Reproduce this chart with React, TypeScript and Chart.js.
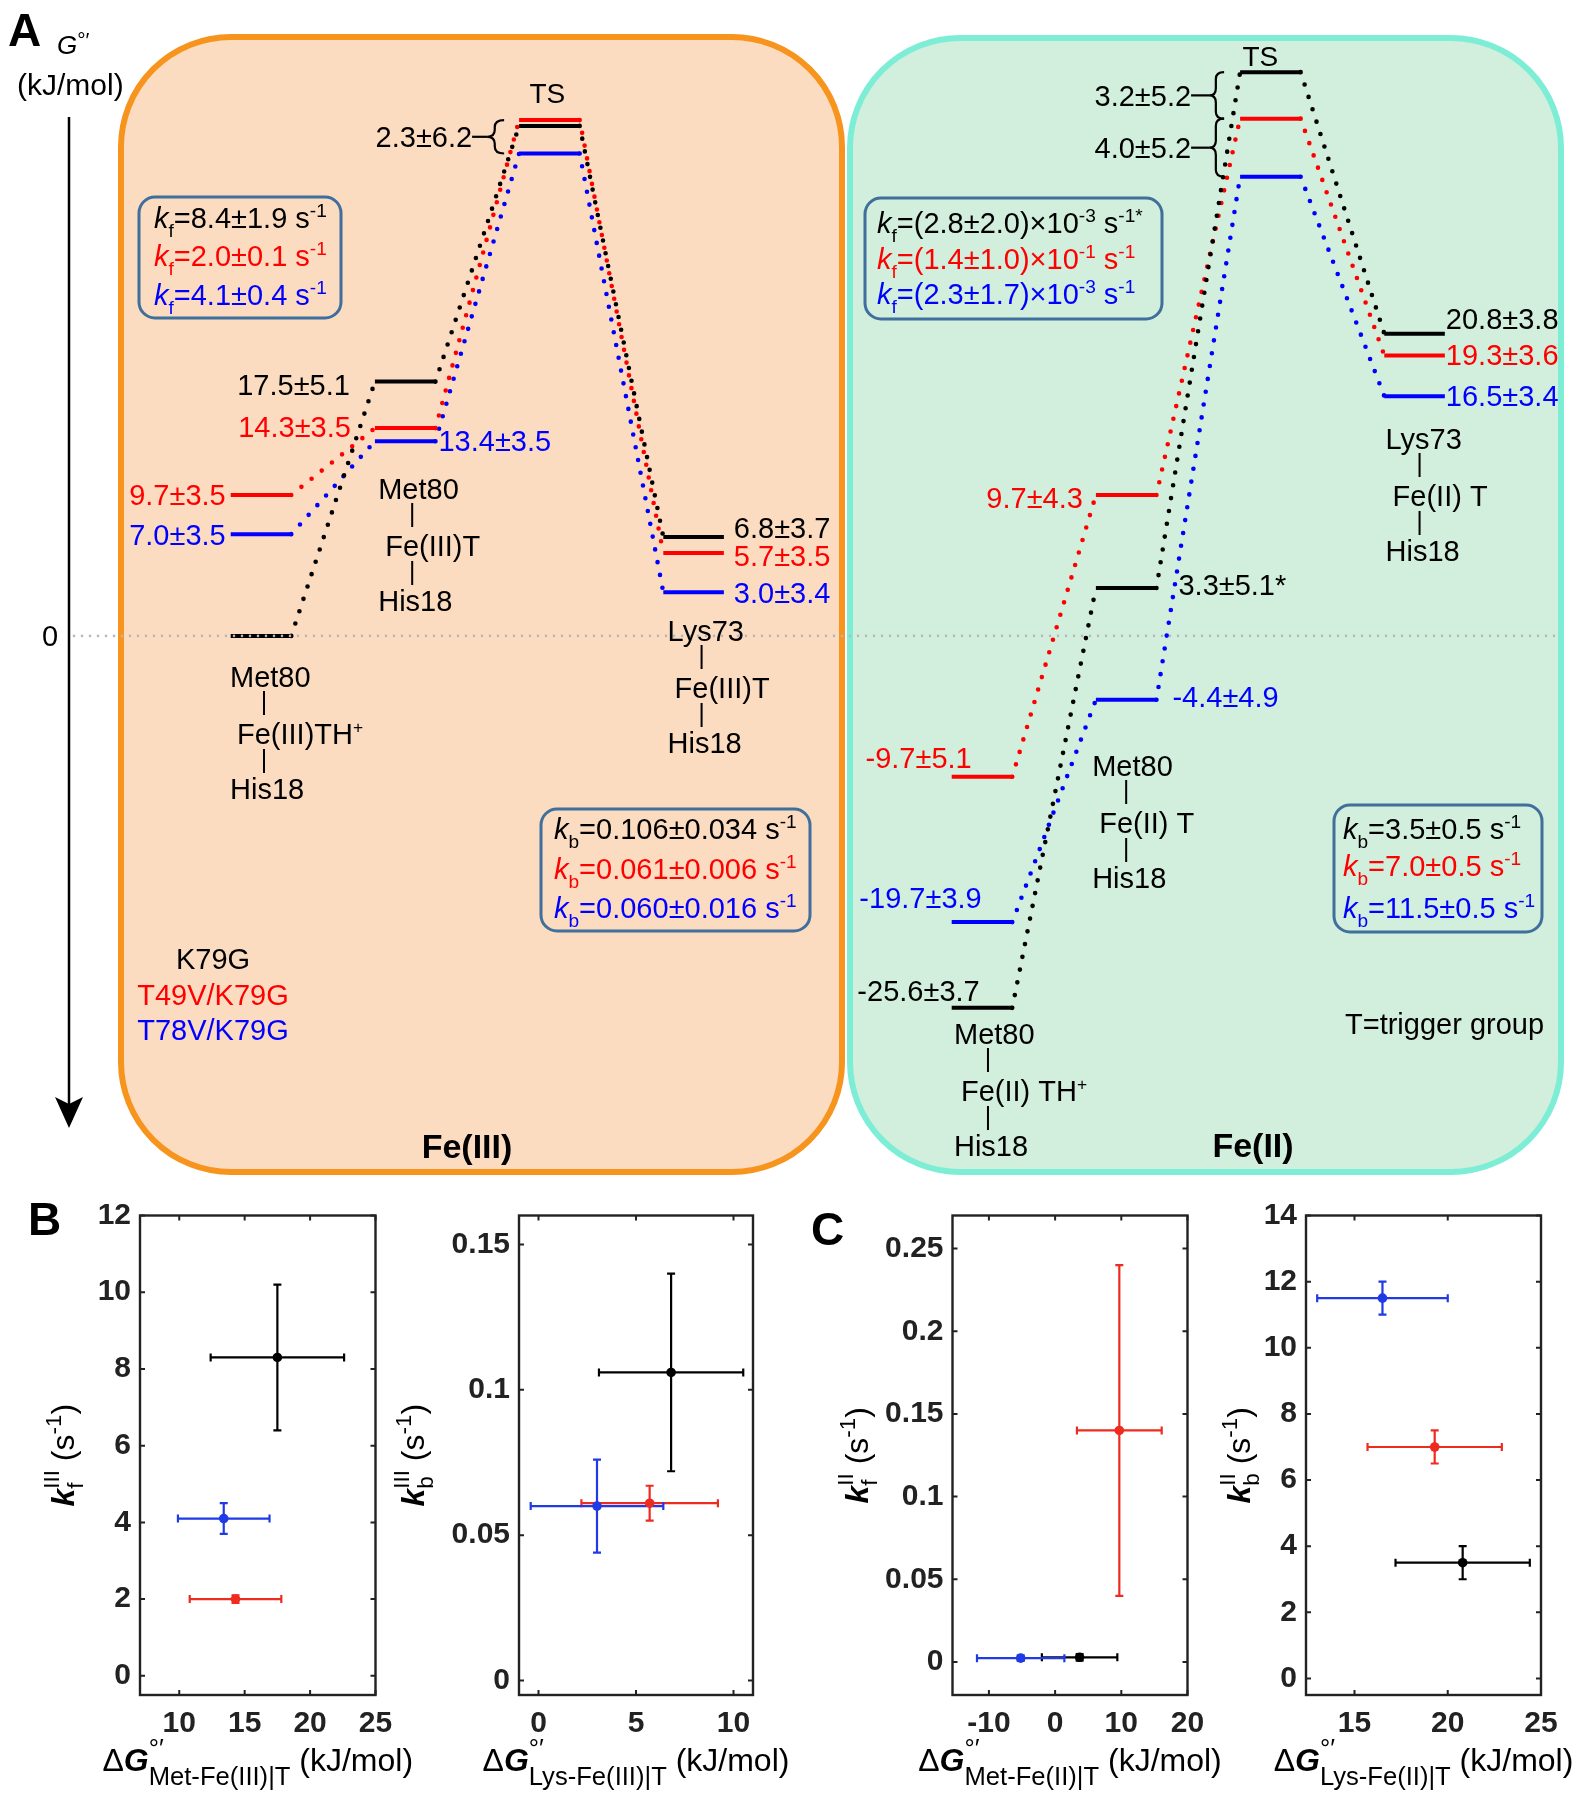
import React, { useEffect, useRef } from "react";
import { Chart, registerables } from "chart.js";

Chart.register(...registerables);

const W = 1584;
const H = 1800;
const FONT = '"Liberation Sans", Arial, Helvetica, sans-serif';

/* ================= Panel A : free-energy diagram ================= */
const variants = ["K79G", "T49V/K79G", "T78V/K79G"];
const variantColors = ["#000000", "#ff0000", "#0000ff"];

// reaction-coordinate position of each state
const posFeIII = [0, 1, 2, 3];
const posFeII = [5, 6, 7, 8];

// G°' (kJ/mol): [Met80 / TH+, Met80 / T, TS, Lys73 / T]
const gFeIII_K79G = [0, 17.5, 35.1, 6.8];
const gFeIII_T49V = [9.7, 14.3, 35.5, 5.7];
const gFeIII_T78V = [7.0, 13.4, 33.2, 3.0];
const gFeII_K79G = [-25.6, 3.3, 38.8, 20.8];
const gFeII_T49V = [-9.7, 9.7, 35.6, 19.3];
const gFeII_T78V = [-19.7, -4.4, 31.6, 16.5];

const lblFeIII_K79G = ["", "17.5±5.1", "", "6.8±3.7"];
const lblFeIII_T49V = ["9.7±3.5", "14.3±3.5", "", "5.7±3.5"];
const lblFeIII_T78V = ["7.0±3.5", "13.4±3.5", "", "3.0±3.4"];
const lblFeII_K79G = ["-25.6±3.7", "3.3±5.1*", "", "20.8±3.8"];
const lblFeII_T49V = ["-9.7±5.1", "9.7±4.3", "", "19.3±3.6"];
const lblFeII_T78V = ["-19.7±3.9", "-4.4±4.9", "", "16.5±3.4"];

const tsGapFeIII = ["2.3±6.2"];
const tsGapFeII = ["3.2±5.2", "4.0±5.2"];

const kfFeIII = ["8.4±1.9", "2.0±0.1", "4.1±0.4"];
const kbFeIII = ["0.106±0.034", "0.061±0.006", "0.060±0.016"];
const kfFeIIMant = ["(2.8±2.0)×10", "(1.4±1.0)×10", "(2.3±1.7)×10"];
const kfFeIIExp = ["-3", "-1", "-3"];
const kfFeIINote = ["*", "", ""];
const kbFeII = ["3.5±0.5", "7.0±0.5", "11.5±0.5"];

const structTop = ["Met80", "Met80", "Lys73", "Met80", "Met80", "Lys73"];
const structMid = ["Fe(III)TH", "Fe(III)T", "Fe(III)T", "Fe(II) TH", "Fe(II) T", "Fe(II) T"];
const structPlus = [true, false, false, true, false, false];
const structBot = ["His18", "His18", "His18", "His18", "His18", "His18"];
const structState = [0, 1, 3, 5, 6, 8];

/* ================= Panels B, C : rate constants ================= */
// order: K79G, T49V/K79G, T78V/K79G
const b1Dg = [17.5, 14.3, 13.4];
const b1DgErr = [5.1, 3.5, 3.5];
const b1Kf = [8.3, 2.0, 4.1];
const b1KfErr = [1.9, 0.1, 0.4];
const b1XTicks = [10, 15, 20, 25];
const b1YTicks = [0, 2, 4, 6, 8, 10, 12];

const b2Dg = [6.8, 5.7, 3.0];
const b2DgErr = [3.7, 3.5, 3.4];
const b2Kb = [0.106, 0.061, 0.06];
const b2KbErr = [0.034, 0.006, 0.016];
const b2XTicks = [0, 5, 10];
const b2YTicks = [0, 0.05, 0.1, 0.15];

const c1Dg = [3.7, 9.7, -5.2];
const c1DgErr = [5.7, 6.4, 6.6];
const c1Kf = [0.0028, 0.14, 0.0023];
const c1KfErr = [0.002, 0.1, 0.0017];
const c1XTicks = [-10, 0, 10, 20];
const c1YTicks = [0, 0.05, 0.1, 0.15, 0.2, 0.25];

const c2Dg = [20.8, 19.3, 16.5];
const c2DgErr = [3.6, 3.6, 3.5];
const c2Kb = [3.5, 7.0, 11.5];
const c2KbErr = [0.5, 0.5, 0.5];
const c2XTicks = [15, 20, 25];
const c2YTicks = [0, 2, 4, 6, 8, 10, 12, 14];

const spColors = ["#000000", "#ee2b1f", "#1f3be6"];

/* ================= text helpers ================= */
type Run = { t: string; it?: boolean; b?: boolean; pos?: "sup" | "sub"; rel?: number; off?: number };
type Piece = Run | { stack: [Run, Run] };

function fnt(size: number, it?: boolean, b?: boolean) {
  return `${it ? "italic " : ""}${b ? "bold " : ""}${size.toFixed(1)}px ${FONT}`;
}
function runSize(r: Run, size: number) {
  return size * (r.rel ?? (r.pos ? 0.66 : 1));
}
function runDy(r: Run, size: number) {
  if (r.off !== undefined) return size * r.off;
  return r.pos === "sup" ? -size * 0.4 : r.pos === "sub" ? size * 0.28 : 0;
}
function runW(ctx: CanvasRenderingContext2D, r: Run, size: number) {
  ctx.font = fnt(runSize(r, size), r.it, r.b);
  return ctx.measureText(r.t).width;
}
function pieceW(ctx: CanvasRenderingContext2D, p: Piece, size: number) {
  if ("stack" in p) return Math.max(runW(ctx, p.stack[0], size), runW(ctx, p.stack[1], size));
  return runW(ctx, p, size);
}
function drawRich(
  ctx: CanvasRenderingContext2D,
  pieces: Piece[],
  x: number,
  cy: number,
  size: number,
  color: string,
  align: "left" | "right" | "center" = "left"
) {
  const total = pieces.reduce((s, p) => s + pieceW(ctx, p, size), 0);
  let cx = align === "left" ? x : align === "right" ? x - total : x - total / 2;
  const base = cy + size * 0.36;
  ctx.save();
  ctx.fillStyle = color;
  ctx.textAlign = "left";
  ctx.textBaseline = "alphabetic";
  for (const p of pieces) {
    const w = pieceW(ctx, p, size);
    const runs = "stack" in p ? p.stack : [p];
    for (const r of runs) {
      ctx.font = fnt(runSize(r, size), r.it, r.b);
      ctx.fillText(r.t, cx, base + runDy(r, size));
    }
    cx += w;
  }
  ctx.restore();
  return total;
}
function txt(ctx: CanvasRenderingContext2D, s: string, x: number, cy: number, size: number, color: string, align: "left" | "right" | "center" = "left", bold = false) {
  drawRich(ctx, [{ t: s, b: bold }], x, cy, size, color, align);
}

function roundRectPath(ctx: CanvasRenderingContext2D, x: number, y: number, w: number, h: number, r: number) {
  ctx.beginPath();
  ctx.moveTo(x + r, y);
  ctx.lineTo(x + w - r, y);
  ctx.arcTo(x + w, y, x + w, y + r, r);
  ctx.lineTo(x + w, y + h - r);
  ctx.arcTo(x + w, y + h, x + w - r, y + h, r);
  ctx.lineTo(x + r, y + h);
  ctx.arcTo(x, y + h, x, y + h - r, r);
  ctx.lineTo(x, y + r);
  ctx.arcTo(x, y, x + r, y, r);
  ctx.closePath();
}

/* ================= Panel A chart ================= */
const HALF = 0.21;
const A_X_MIN = -1.81;
const A_X_MAX = 9.175;
const A_Y_MIN = -37.45;
const A_Y_MAX = 43.765;
const A_HEIGHT = 1180;
const TXT = 29;

type Place = [string, number, number] | null;
const placeFeIII: Place[][] = [
  [null, ["L", 25, 3], null, ["R", 10, -10]],
  [["L", 5, 0], ["L", 24, -2], null, ["R", 10, 3]],
  [["L", 5, 0], ["R", 3, -1], null, ["R", 10, 0]],
];
const placeFeII: Place[][] = [
  [["A", 28, -17], ["R", 22, -3], null, ["R", 1, -15]],
  [["A", 20, -19], ["L", 13, 3], null, ["R", 1, -1]],
  [["A", 30, -25], ["R", 16, -3], null, ["R", 1, -1]],
];
const structDx = [3, 7, 8, 6, 0, 5];
const structY0 = [677, 489, 631, 1034, 766, 439];

function levelDataset(pos: number[], g: number[], color: string) {
  const data: { x: number; y: number }[] = [];
  pos.forEach((p, i) => {
    data.push({ x: p - HALF, y: g[i] }, { x: p + HALF, y: g[i] });
  });
  return {
    data,
    borderColor: color,
    backgroundColor: color,
    borderWidth: 4,
    borderCapStyle: "butt",
    pointRadius: 0,
    fill: false,
    tension: 0,
    segment: {
      borderDash: (c: any) => (c.p0DataIndex % 2 === 1 ? [0, 13] : undefined),
      borderCapStyle: (c: any) => (c.p0DataIndex % 2 === 1 ? "round" : undefined),
      borderWidth: (c: any) => (c.p0DataIndex % 2 === 1 ? 4.6 : undefined),
    },
  };
}

function drawBrace(ctx: CanvasRenderingContext2D, xTip: number, xEnd: number, yTop: number, yBot: number) {
  const ym = (yTop + yBot) / 2;
  const xm = xTip + (xEnd - xTip) * 0.45;
  const r = Math.min(7, (yBot - yTop) / 4);
  ctx.beginPath();
  ctx.moveTo(xEnd, yTop);
  ctx.quadraticCurveTo(xm, yTop, xm, yTop + r);
  ctx.lineTo(xm, ym - r);
  ctx.quadraticCurveTo(xm, ym, xTip, ym);
  ctx.quadraticCurveTo(xm, ym, xm, ym + r);
  ctx.lineTo(xm, yBot - r);
  ctx.quadraticCurveTo(xm, yBot, xEnd, yBot);
  ctx.stroke();
}

const panelAPlugin = {
  id: "panelA",
  beforeDatasetsDraw(chart: any) {
    const ctx: CanvasRenderingContext2D = chart.ctx;
    ctx.save();
    roundRectPath(ctx, 121, 37, 721, 1135, 110);
    ctx.fillStyle = "#FBDCC1";
    ctx.fill();
    ctx.lineWidth = 6;
    ctx.strokeStyle = "#F7941D";
    ctx.stroke();
    roundRectPath(ctx, 850, 38, 711, 1134, 110);
    ctx.fillStyle = "#D2EEDC";
    ctx.fill();
    ctx.strokeStyle = "#7DEED5";
    ctx.stroke();
    ctx.restore();
  },
  afterDatasetsDraw(chart: any) {
    const ctx: CanvasRenderingContext2D = chart.ctx;
    const xs = chart.scales.x;
    const ys = chart.scales.y;
    const y0 = ys.getPixelForValue(0);
    ctx.save();

    // zero reference line
    ctx.setLineDash([0, 8]);
    ctx.lineCap = "round";
    ctx.lineWidth = 2.6;
    ctx.strokeStyle = "#b8b8b8";
    ctx.beginPath();
    ctx.moveTo(74, y0);
    ctx.lineTo(1558, y0);
    ctx.stroke();
    ctx.setLineDash([]);
    ctx.lineCap = "butt";

    // G axis arrow
    ctx.strokeStyle = "#000";
    ctx.fillStyle = "#000";
    ctx.lineWidth = 2.5;
    ctx.beginPath();
    ctx.moveTo(69, 117);
    ctx.lineTo(69, 1108);
    ctx.stroke();
    ctx.beginPath();
    ctx.moveTo(69, 1128);
    ctx.lineTo(55, 1097);
    ctx.lineTo(69, 1104);
    ctx.lineTo(83, 1097);
    ctx.closePath();
    ctx.fill();
    txt(ctx, "0", 50, y0, TXT, "#000", "center");
    drawRich(ctx, [{ t: "G", it: true }, { t: "°′", pos: "sup", rel: 0.8, off: -0.3 }], 57, 45, 26, "#000");
    txt(ctx, "(kJ/mol)", 17, 84, 30, "#000");
    txt(ctx, "A", 8, 29, 46, "#000", "left", true);

    // value labels next to levels
    const doLabels = (pos: number[], gs: number[][], lbls: string[][], places: Place[][]) => {
      gs.forEach((g, v) => {
        g.forEach((val, i) => {
          const pl = places[v][i];
          const s = lbls[v][i];
          if (!pl || !s) return;
          const py = ys.getPixelForValue(val) + pl[2];
          const left = xs.getPixelForValue(pos[i] - HALF);
          const right = xs.getPixelForValue(pos[i] + HALF);
          if (pl[0] === "L") txt(ctx, s, left - pl[1], py, TXT, variantColors[v], "right");
          else if (pl[0] === "R") txt(ctx, s, right + pl[1], py, TXT, variantColors[v], "left");
          else txt(ctx, s, left + pl[1], py, TXT, variantColors[v], "right");
        });
      });
    };
    doLabels(posFeIII, [gFeIII_K79G, gFeIII_T49V, gFeIII_T78V], [lblFeIII_K79G, lblFeIII_T49V, lblFeIII_T78V], placeFeIII);
    doLabels(posFeII, [gFeII_K79G, gFeII_T49V, gFeII_T78V], [lblFeII_K79G, lblFeII_T49V, lblFeII_T78V], placeFeII);

    // transition states
    ctx.strokeStyle = "#000";
    ctx.lineWidth = 2.2;
    {
      const tsLeft = xs.getPixelForValue(posFeIII[2] - HALF);
      const tsC = xs.getPixelForValue(posFeIII[2]);
      const yr = ys.getPixelForValue(gFeIII_T49V[2]);
      const yb = ys.getPixelForValue(gFeIII_T78V[2]);
      const top = Math.min(yr, ys.getPixelForValue(gFeIII_K79G[2]));
      txt(ctx, "TS", tsC - 2, top - 27, TXT - 1, "#000", "center");
      drawBrace(ctx, tsLeft - 32, tsLeft - 15, yr, yb);
      const ym = (yr + yb) / 2;
      ctx.beginPath();
      ctx.moveTo(tsLeft - 47, ym);
      ctx.lineTo(tsLeft - 32, ym);
      ctx.stroke();
      txt(ctx, tsGapFeIII[0], tsLeft - 47, ym, TXT, "#000", "right");
    }
    {
      const tsLeft = xs.getPixelForValue(posFeII[2] - HALF);
      const tsC = xs.getPixelForValue(posFeII[2]);
      const yk = ys.getPixelForValue(gFeII_K79G[2]);
      const yr = ys.getPixelForValue(gFeII_T49V[2]);
      const yb = ys.getPixelForValue(gFeII_T78V[2]);
      txt(ctx, "TS", tsC - 10, yk - 16, TXT - 1, "#000", "center");
      const pairs: [number, number, string][] = [
        [yk, yr, tsGapFeII[0]],
        [yr, yb, tsGapFeII[1]],
      ];
      pairs.forEach(([a, b, s]) => {
        drawBrace(ctx, tsLeft - 31, tsLeft - 16, a, b);
        const ym = (a + b) / 2;
        ctx.beginPath();
        ctx.moveTo(tsLeft - 49, ym);
        ctx.lineTo(tsLeft - 31, ym);
        ctx.stroke();
        txt(ctx, s, tsLeft - 49, ym, TXT, "#000", "right");
      });
    }

    // ligation-state labels
    ctx.lineWidth = 2;
    structTop.forEach((top, k) => {
      const bx = xs.getPixelForValue(structState[k]) + structDx[k];
      const yy = structY0[k];
      txt(ctx, top, bx - 34, yy, TXT, "#000");
      const mid: Piece[] = [{ t: structMid[k] }];
      if (structPlus[k]) mid.push({ t: "+", pos: "sup", rel: 0.6 });
      drawRich(ctx, mid, bx - 27, yy + 57, TXT, "#000");
      txt(ctx, structBot[k], bx - 34, yy + 112, TXT, "#000");
      ctx.beginPath();
      ctx.moveTo(bx, yy + 14);
      ctx.lineTo(bx, yy + 38);
      ctx.moveTo(bx, yy + 72);
      ctx.lineTo(bx, yy + 96);
      ctx.stroke();
    });

    // rate-constant boxes
    const box = (x: number, y: number, w: number, h: number) => {
      roundRectPath(ctx, x, y, w, h, 16);
      ctx.lineWidth = 3;
      ctx.strokeStyle = "#3F6F9C";
      ctx.stroke();
    };
    box(139, 197, 202, 121);
    box(541, 809, 269, 122);
    box(865, 198, 297, 121);
    box(1334, 805, 208, 127);
    const kRuns = (sub: string): Piece[] => [{ t: "k", it: true }, { t: sub, pos: "sub" }];
    const r1 = [218, 256, 295];
    kfFeIII.forEach((s, i) =>
      drawRich(ctx, [...kRuns("f"), { t: "=" + s + " s" }, { t: "-1", pos: "sup" }], 154, r1[i], TXT, variantColors[i])
    );
    const r2 = [829, 869, 908];
    kbFeIII.forEach((s, i) =>
      drawRich(ctx, [...kRuns("b"), { t: "=" + s + " s" }, { t: "-1", pos: "sup" }], 554, r2[i], TXT, variantColors[i])
    );
    const r3 = [223, 259, 294];
    kfFeIIMant.forEach((s, i) =>
      drawRich(
        ctx,
        [...kRuns("f"), { t: "=" + s }, { t: kfFeIIExp[i], pos: "sup" }, { t: " s" }, { t: "-1" + kfFeIINote[i], pos: "sup" }],
        877,
        r3[i],
        TXT,
        variantColors[i]
      )
    );
    const r4 = [829, 866, 908];
    kbFeII.forEach((s, i) =>
      drawRich(ctx, [...kRuns("b"), { t: "=" + s + " s" }, { t: "-1", pos: "sup" }], 1343, r4[i], TXT, variantColors[i])
    );

    // legend and notes
    const legY = [959, 995, 1030];
    variants.forEach((v, i) => txt(ctx, v, 213, legY[i], TXT, variantColors[i], "center"));
    txt(ctx, "T=trigger group", 1345, 1024, TXT, "#000");
    txt(ctx, "Fe(III)", 467, 1146, 34, "#000", "center", true);
    txt(ctx, "Fe(II)", 1253, 1145, 34, "#000", "center", true);
    ctx.restore();
  },
};

function makePanelA(canvas: HTMLCanvasElement) {
  const datasets = [
    levelDataset(posFeIII, gFeIII_K79G, variantColors[0]),
    levelDataset(posFeIII, gFeIII_T49V, variantColors[1]),
    levelDataset(posFeIII, gFeIII_T78V, variantColors[2]),
    levelDataset(posFeII, gFeII_K79G, variantColors[0]),
    levelDataset(posFeII, gFeII_T49V, variantColors[1]),
    levelDataset(posFeII, gFeII_T78V, variantColors[2]),
  ];
  return new Chart(canvas, {
    type: "line",
    data: { datasets: datasets as any },
    options: {
      animation: false,
      responsive: false,
      events: [],
      layout: { padding: { left: 0, right: 0, top: 0, bottom: H - A_HEIGHT } },
      plugins: { legend: { display: false }, tooltip: { enabled: false } },
      scales: {
        x: { type: "linear", display: false, min: A_X_MIN, max: A_X_MAX },
        y: { type: "linear", display: false, min: A_Y_MIN, max: A_Y_MAX },
      },
    },
    plugins: [panelAPlugin as any],
  });
}

/* ================= Panels B / C charts ================= */
type SP = {
  left: number;
  right: number;
  top: number;
  bottom: number;
  xMin: number;
  xMax: number;
  xTicks: number[];
  yMin: number;
  yMax: number;
  yTicks: number[];
  xs: number[];
  xErr: number[];
  ys: number[];
  yErr: number[];
  ySup: string;
  ySub: string;
  xSub: string;
  yLabelX: number;
  letter?: [string, number, number];
};

const TOP = 1215.5;
const BOT = 1695;
const B1: SP = { left: 140, right: 375.5, top: TOP, bottom: BOT, xMin: 7, xMax: 25, xTicks: b1XTicks, yMin: -0.5, yMax: 12, yTicks: b1YTicks, xs: b1Dg, xErr: b1DgErr, ys: b1Kf, yErr: b1KfErr, ySup: "III", ySub: "f", xSub: "Met-Fe(III)|T", yLabelX: 62, letter: ["B", 28, 1218] };
const B2: SP = { left: 519, right: 753, top: TOP, bottom: BOT, xMin: -1, xMax: 11, xTicks: b2XTicks, yMin: -0.005, yMax: 0.16, yTicks: b2YTicks, xs: b2Dg, xErr: b2DgErr, ys: b2Kb, yErr: b2KbErr, ySup: "III", ySub: "b", xSub: "Lys-Fe(III)|T", yLabelX: 412 };
const C1: SP = { left: 952.5, right: 1187.5, top: TOP, bottom: BOT, xMin: -15.5, xMax: 20, xTicks: c1XTicks, yMin: -0.02, yMax: 0.27, yTicks: c1YTicks, xs: c1Dg, xErr: c1DgErr, ys: c1Kf, yErr: c1KfErr, ySup: "II", ySub: "f", xSub: "Met-Fe(II)|T", yLabelX: 856, letter: ["C", 811, 1228] };
const C2: SP = { left: 1306, right: 1541, top: TOP, bottom: BOT, xMin: 12.4, xMax: 25, xTicks: c2XTicks, yMin: -0.5, yMax: 14, yTicks: c2YTicks, xs: c2Dg, xErr: c2DgErr, ys: c2Kb, yErr: c2KbErr, ySup: "II", ySub: "b", xSub: "Lys-Fe(II)|T", yLabelX: 1238 };

const YW = 130;
const XH = 60;
const CAP = 4;

function spPlugin(cfg: SP) {
  return {
    id: "sp",
    beforeDatasetsDraw(chart: any) {
      const ctx: CanvasRenderingContext2D = chart.ctx;
      const x = chart.scales.x;
      const y = chart.scales.y;
      ctx.save();
      ctx.lineWidth = 2.2;
      cfg.xs.forEach((xv, i) => {
        ctx.strokeStyle = spColors[i];
        const px = x.getPixelForValue(xv);
        const py = y.getPixelForValue(cfg.ys[i]);
        const xl = x.getPixelForValue(xv - cfg.xErr[i]);
        const xr = x.getPixelForValue(xv + cfg.xErr[i]);
        const yt = y.getPixelForValue(cfg.ys[i] + cfg.yErr[i]);
        const yb = y.getPixelForValue(cfg.ys[i] - cfg.yErr[i]);
        ctx.beginPath();
        ctx.moveTo(xl, py);
        ctx.lineTo(xr, py);
        ctx.moveTo(xl, py - CAP);
        ctx.lineTo(xl, py + CAP);
        ctx.moveTo(xr, py - CAP);
        ctx.lineTo(xr, py + CAP);
        ctx.moveTo(px, yt);
        ctx.lineTo(px, yb);
        ctx.moveTo(px - CAP, yt);
        ctx.lineTo(px + CAP, yt);
        ctx.moveTo(px - CAP, yb);
        ctx.lineTo(px + CAP, yb);
        ctx.stroke();
      });
      ctx.restore();
    },
    afterDraw(chart: any) {
      const ctx: CanvasRenderingContext2D = chart.ctx;
      const x = chart.scales.x;
      const y = chart.scales.y;
      const a = chart.chartArea;
      ctx.save();
      ctx.strokeStyle = "#222";
      ctx.lineWidth = 2.4;
      ctx.strokeRect(a.left, a.top, a.right - a.left, a.bottom - a.top);
      ctx.lineWidth = 2;
      ctx.beginPath();
      cfg.xTicks.forEach((v) => {
        const px = x.getPixelForValue(v);
        ctx.moveTo(px, a.bottom);
        ctx.lineTo(px, a.bottom - 5);
        ctx.moveTo(px, a.top);
        ctx.lineTo(px, a.top + 5);
      });
      cfg.yTicks.forEach((v) => {
        const py = y.getPixelForValue(v);
        ctx.moveTo(a.left, py);
        ctx.lineTo(a.left + 5, py);
        ctx.moveTo(a.right, py);
        ctx.lineTo(a.right - 5, py);
      });
      ctx.stroke();

      // y title (rotated)
      ctx.save();
      ctx.translate(cfg.yLabelX, (a.top + a.bottom) / 2);
      ctx.rotate(-Math.PI / 2);
      drawRich(
        ctx,
        [
          { t: "k", it: true, b: true },
          { stack: [{ t: cfg.ySup, pos: "sup", rel: 0.7, off: -0.45 }, { t: cfg.ySub, pos: "sub", rel: 0.7, off: 0.3 }] },
          { t: " (s" },
          { t: "-1", pos: "sup", rel: 0.7 },
          { t: ")" },
        ],
        0,
        0,
        32,
        "#000",
        "center"
      );
      ctx.restore();

      // x title
      drawRich(
        ctx,
        [
          { t: "Δ" },
          { t: "G", it: true, b: true },
          { stack: [{ t: "°′", pos: "sup", rel: 0.8, off: -0.42 }, { t: cfg.xSub, pos: "sub", rel: 0.8, off: 0.45 }] },
          { t: " (kJ/mol)" },
        ],
        (a.left + a.right) / 2,
        1759,
        32,
        "#000",
        "center"
      );
      if (cfg.letter) txt(ctx, cfg.letter[0], cfg.letter[1], cfg.letter[2], 46, "#000", "left", true);
      ctx.restore();
    },
  };
}

function makeSP(canvas: HTMLCanvasElement, cfg: SP) {
  const tickFont = { family: FONT, size: 30, weight: "bold" as const };
  return new Chart(canvas, {
    type: "scatter",
    data: {
      datasets: cfg.xs.map((xv, i) => ({
        data: [{ x: xv, y: cfg.ys[i] }],
        backgroundColor: spColors[i],
        borderColor: spColors[i],
        pointRadius: 4.8,
        pointBorderWidth: 0,
      })),
    },
    options: {
      animation: false,
      responsive: false,
      events: [],
      layout: { padding: { left: cfg.left - YW, right: W - cfg.right, top: cfg.top, bottom: H - cfg.bottom - XH } },
      plugins: { legend: { display: false }, tooltip: { enabled: false } },
      scales: {
        x: {
          type: "linear",
          min: cfg.xMin,
          max: cfg.xMax,
          grid: { display: false, drawTicks: false },
          border: { display: false },
          ticks: { font: tickFont, color: "#222", padding: 11, maxRotation: 0, autoSkip: false, callback: (v: any) => String(v) },
          afterBuildTicks: (s: any) => {
            s.ticks = cfg.xTicks.map((v) => ({ value: v }));
          },
          afterFit: (s: any) => {
            s.height = XH;
          },
        },
        y: {
          type: "linear",
          min: cfg.yMin,
          max: cfg.yMax,
          grid: { display: false, drawTicks: false },
          border: { display: false },
          ticks: { font: tickFont, color: "#222", padding: 9, autoSkip: false, callback: (v: any) => String(v) },
          afterBuildTicks: (s: any) => {
            s.ticks = cfg.yTicks.map((v) => ({ value: v }));
          },
          afterFit: (s: any) => {
            s.width = YW;
          },
        },
      },
    },
    plugins: [spPlugin(cfg) as any],
  });
}

export default function App() {
  const aRef = useRef<HTMLCanvasElement>(null);
  const b1Ref = useRef<HTMLCanvasElement>(null);
  const b2Ref = useRef<HTMLCanvasElement>(null);
  const c1Ref = useRef<HTMLCanvasElement>(null);
  const c2Ref = useRef<HTMLCanvasElement>(null);

  useEffect(() => {
    const charts: Chart[] = [];
    if (aRef.current) charts.push(makePanelA(aRef.current));
    if (b1Ref.current) charts.push(makeSP(b1Ref.current, B1));
    if (b2Ref.current) charts.push(makeSP(b2Ref.current, B2));
    if (c1Ref.current) charts.push(makeSP(c1Ref.current, C1));
    if (c2Ref.current) charts.push(makeSP(c2Ref.current, C2));
    return () => charts.forEach((c) => c.destroy());
  }, []);

  const st: React.CSSProperties = { position: "absolute", left: 0, top: 0, width: W, height: H };
  return (
    <div style={{ position: "absolute", left: 0, top: 0, width: W, height: H, background: "#ffffff", overflow: "hidden" }}>
      <canvas ref={aRef} width={W} height={H} style={st} />
      <canvas ref={b1Ref} width={W} height={H} style={st} />
      <canvas ref={b2Ref} width={W} height={H} style={st} />
      <canvas ref={c1Ref} width={W} height={H} style={st} />
      <canvas ref={c2Ref} width={W} height={H} style={st} />
    </div>
  );
}
